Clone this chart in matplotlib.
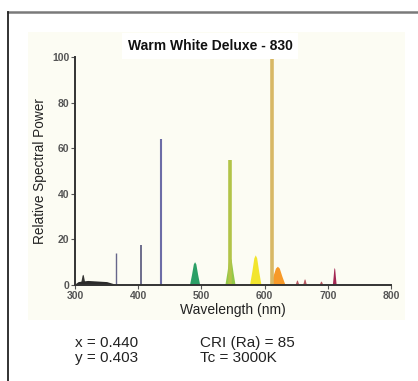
import matplotlib.pyplot as plt
from matplotlib.lines import Line2D
from matplotlib.patches import Rectangle

plt.rcParams["font.family"] = ["Liberation Sans", "DejaVu Sans"]

# data
title = "Warm White Deluxe - 830"
x_ticks = [300, 400, 500, 600, 700, 800]
y_ticks = [0, 20, 40, 60, 80, 100]

# sharp emission lines
line_nm = [365, 405, 436, 546, 611]
line_pw = [14, 17.5, 64, 55, 100]
line_colors = ["#66668a", "#55557a", "#6c6ca6", "#b2c448", "#d8b865"]
line_widths = [1.0, 1.2, 1.5, 2.6, 2.6]

# broader phosphor bands
band_nm = [313, 490, 546, 586, 621, 652, 664, 690, 711]
band_pw = [4.5, 10, 12, 13, 8, 2, 2.5, 1.5, 7.5]
band_half = [4, 8, 8, 9, 12, 3, 3, 3, 3]
band_colors = ["#2a2a2a", "#1f9a5e", "#8dc63f", "#f2e422", "#f7941d",
               "#b5505a", "#b5505a", "#b5505a", "#9e1b4a"]

# dark low continuum in the UV part
uv_nm = [300, 305, 320, 350, 362]
uv_pw = [0.5, 1.5, 2.0, 1.5, 0.5]

cie_x, cie_y = "0.440", "0.403"
cri, tc = "85", "3000K"

fig = plt.figure(figsize=(4.18, 3.81), dpi=100)
fig.patch.set_facecolor("white")

# frame lines of the page
fig.add_artist(Line2D([8 / 418, 1.0], [1 - 12 / 381, 1 - 12 / 381],
                      color="#7a7a7a", lw=1.8, transform=fig.transFigure))
fig.add_artist(Line2D([8 / 418, 8 / 418], [0, 1 - 12 / 381],
                      color="#222222", lw=1.3, transform=fig.transFigure))

# faint cream panel behind the chart
fig.add_artist(Rectangle((28 / 418, 1 - 320 / 381), 377 / 418, 288 / 381,
                         transform=fig.transFigure, facecolor="#fcfcf3",
                         edgecolor="none", zorder=0))

ax = fig.add_axes([75 / 418, 96 / 381, 316 / 418, 228 / 381])
ax.set_facecolor("none")

ax.fill_between(uv_nm, uv_pw, color="#2a2a2a", lw=0)

for c, h, w, col in zip(band_nm, band_pw, band_half, band_colors):
    xs = [c - w, c - w * 0.6, c - w * 0.25, c, c + w * 0.25, c + w * 0.6, c + w]
    ys = [0, h * 0.45, h * 0.9, h, h * 0.9, h * 0.45, 0]
    ax.fill(xs, ys, color=col, lw=0, alpha=0.95)

ax.vlines(line_nm, 0, line_pw, colors=line_colors, linewidths=line_widths)

ax.set_xlim(300, 800)
ax.set_ylim(0, 100)
ax.set_xticks(x_ticks)
ax.set_yticks(y_ticks)
for s in ["top", "right"]:
    ax.spines[s].set_visible(False)
for s in ["left", "bottom"]:
    ax.spines[s].set_color("#333333")
    ax.spines[s].set_linewidth(1.4)
ax.tick_params(direction="out", length=3, width=0.8, colors="#555555",
               labelsize=7.5, pad=1)
for lab in ax.get_xticklabels() + ax.get_yticklabels():
    lab.set_fontweight("bold")

ax.set_xlabel("Wavelength (nm)", fontsize=10, color="#222222", labelpad=2)
ax.set_ylabel("Relative Spectral Power", fontsize=9.8, color="#222222",
              labelpad=4)

fig.text(210 / 418, 1 - 46 / 381, title, ha="center", va="center",
         fontsize=10, fontweight="bold", color="#111111",
         bbox=dict(facecolor="white", edgecolor="none", pad=4))

fig.text(75 / 418, 1 - 343 / 381, f"x = {cie_x}", fontsize=11,
         va="center", color="#222222")
fig.text(75 / 418, 1 - 358 / 381, f"y = {cie_y}", fontsize=11,
         va="center", color="#222222")
fig.text(200 / 418, 1 - 343 / 381, f"CRI (Ra) = {cri}", fontsize=11,
         va="center", color="#222222")
fig.text(200 / 418, 1 - 358 / 381, f"Tc = {tc}", fontsize=11,
         va="center", color="#222222")

fig.savefig("out.png", dpi=100)
